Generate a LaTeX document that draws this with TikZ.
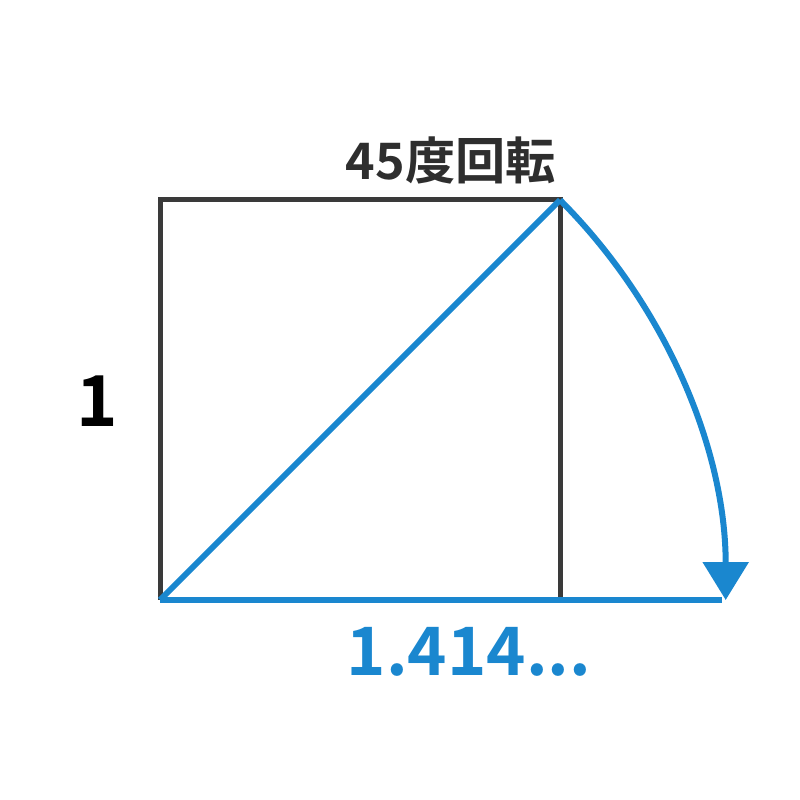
\documentclass[tikz,border=0pt]{standalone}
\usepackage{fontspec}
\setmainfont{Noto Sans CJK JP}[BoldFont={* Bold}]
\usetikzlibrary{arrows.meta}
\definecolor{rotblue}{HTML}{1A87CF}
\definecolor{edgegray}{HTML}{3A3A3A}
\tikzset{
    side/.style={draw=edgegray,line width=0.05cm},
    bluepath/.style={draw=rotblue,line width=0.06cm},
    bigtext/.style={font=\bfseries\fontsize{19}{22}\selectfont,inner sep=0pt}
}
\begin{document}
\begin{tikzpicture}
        \useasboundingbox (0,0) rectangle (8,8);
        \coordinate (o) at (1.6,2);
        \coordinate (br) at (5.6,2);
        \coordinate (tr) at (5.6,6);
        \coordinate (tl) at (1.6,6);
        \draw [side] (o) -- (tl) -- (tr) -- (br);
        \draw [bluepath] (o) -- (tr);
        \draw [bluepath] (o) -- (7.22,2);
        \draw [bluepath,-{Triangle[width=0.45cm,length=0.38cm]}] (tr) arc [start angle=45,end angle=0,radius=5.657];
        \node [font=\bfseries\fontsize{14.3}{17}\selectfont,text=edgegray!80!black,inner sep=0pt] (title) at (4.51,6.4) {45度回転};
        \node [bigtext,font=\bfseries\fontsize{20}{22}\selectfont] (one) at (0.97,3.99) {1};
        \node [bigtext,text=rotblue] (root) at (4.69,1.48) {1.414...};
    \end{tikzpicture}
\end{document}
